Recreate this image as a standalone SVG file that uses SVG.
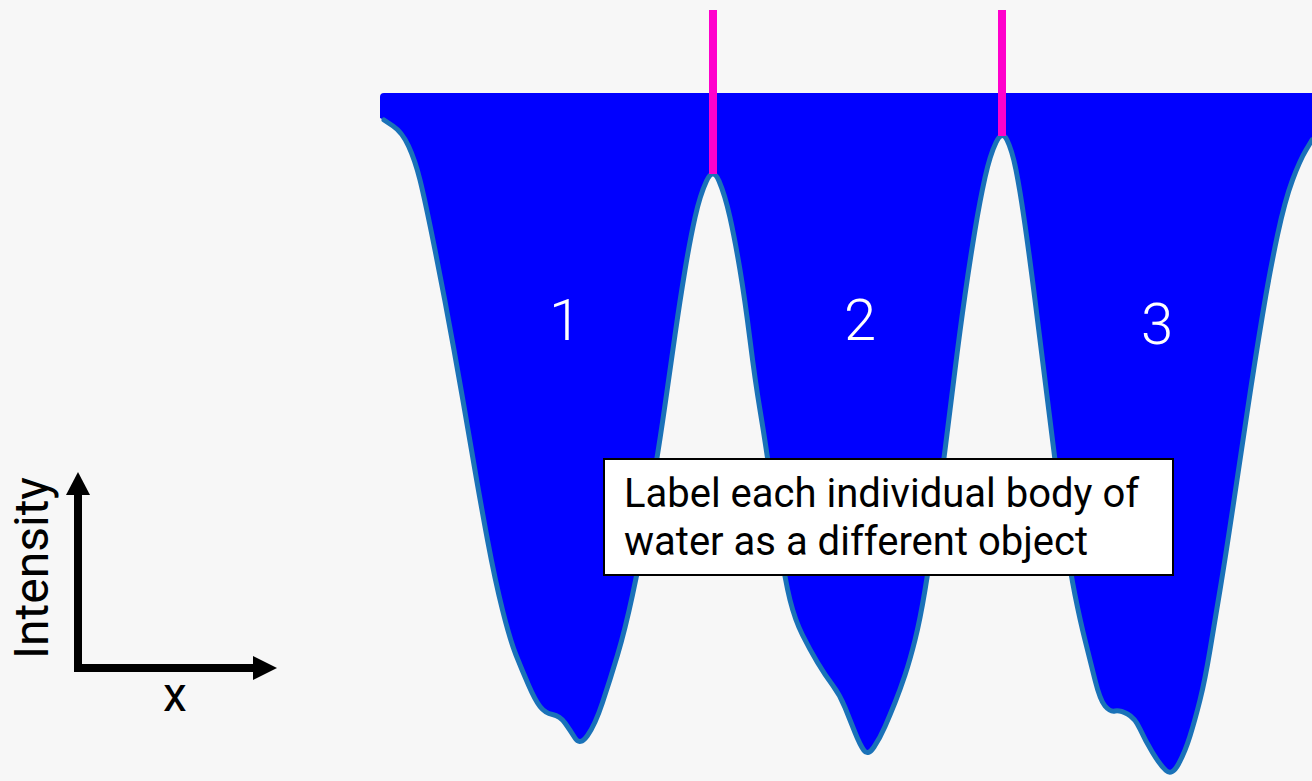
<svg xmlns="http://www.w3.org/2000/svg" width="1312" height="781" viewBox="0 0 1312 781">
<defs>
<style>
.water{fill:#0000ff;stroke:none}
.edge{fill:none;stroke:#1a72b8;stroke-width:5;stroke-linejoin:round;stroke-linecap:round}
.cut{stroke:#ff00cc;stroke-width:8}
.num{font-family:Roboto,"Liberation Sans",sans-serif;font-weight:300;font-size:58px;fill:#ffffff;text-anchor:middle}
.lbl{font-family:Roboto,"Liberation Sans",sans-serif;font-size:40px;fill:#000}
.ax{font-family:Roboto,"Liberation Sans",sans-serif;font-size:48px;fill:#000}
.axis{stroke:#000;stroke-width:8;fill:none}
</style>
</defs>
<rect width="1312" height="781" fill="#f7f7f7"/>
<g id="water">
<path class="water" d="M384,120 L393,126 Q402,132 408.5,146 Q415,160 420,180 Q425,200 435,250 Q445,300 454,350 Q463,400 471.5,450 Q480,500 487.5,540 Q495,580 502.5,610 Q510,640 516,655 Q522,670 528.5,685 Q535,700 540,706.5 Q545,713 552.5,714.5 Q560,716 565,723 Q570,730 575,738 Q580,746 587.5,735.5 Q595,725 602.5,702.5 Q610,680 617.5,655 Q625,630 632.5,595 Q640,560 645,530 Q650,500 655,470 Q660,440 665,405 Q670,370 675,335 Q680,300 685,270 Q690,240 695,217.5 Q700,195 706.5,181 Q713,167 719,181 Q725,195 730,217.5 Q735,240 740,270 Q745,300 750,340 Q755,380 760,410 Q765,440 770,475 Q775,510 780,545 Q785,580 790,600 Q795,620 802.5,635 Q810,650 817.5,662.5 Q825,675 832.5,685 Q840,695 845,707.5 Q850,720 855,732.5 Q860,745 864,750.5 Q868,756 874,747 Q880,738 885,726.5 Q890,715 895,702.5 Q900,690 905,675 Q910,660 915,640 Q920,620 925,590 Q930,560 935,525 Q940,490 945,450 Q950,410 955,370 Q960,330 965,295 Q970,260 975,230 Q980,200 985,177.5 Q990,155 996,142.5 Q1002,130 1007,140 Q1012,150 1016,170 Q1020,190 1025,225 Q1030,260 1035,300 Q1040,340 1045,380 Q1050,420 1055,460 Q1060,500 1065,535 Q1070,570 1075,595 Q1080,620 1085,640 Q1090,660 1095,680 Q1100,700 1105,706 Q1110,712 1115,711 Q1120,710 1127.5,714 Q1135,718 1140,729 Q1145,740 1152.5,752.5 Q1160,765 1166,770.5 Q1172,776 1178.5,764 Q1185,752 1190,736 Q1195,720 1200,700 Q1205,680 1210,650 Q1215,620 1220,590 Q1225,560 1232.5,510 Q1240,460 1247.5,410 Q1255,360 1262.5,315 Q1270,270 1277.5,235 Q1285,200 1292.5,180 Q1300,160 1306,150 L1312,140 L1312,93 L384,93 Q380,93 380,97 L380,118 Z"/>
<path class="edge" d="M384,120 L393,126 Q402,132 408.5,146 Q415,160 420,180 Q425,200 435,250 Q445,300 454,350 Q463,400 471.5,450 Q480,500 487.5,540 Q495,580 502.5,610 Q510,640 516,655 Q522,670 528.5,685 Q535,700 540,706.5 Q545,713 552.5,714.5 Q560,716 565,723 Q570,730 575,738 Q580,746 587.5,735.5 Q595,725 602.5,702.5 Q610,680 617.5,655 Q625,630 632.5,595 Q640,560 645,530 Q650,500 655,470 Q660,440 665,405 Q670,370 675,335 Q680,300 685,270 Q690,240 695,217.5 Q700,195 706.5,181 Q713,167 719,181 Q725,195 730,217.5 Q735,240 740,270 Q745,300 750,340 Q755,380 760,410 Q765,440 770,475 Q775,510 780,545 Q785,580 790,600 Q795,620 802.5,635 Q810,650 817.5,662.5 Q825,675 832.5,685 Q840,695 845,707.5 Q850,720 855,732.5 Q860,745 864,750.5 Q868,756 874,747 Q880,738 885,726.5 Q890,715 895,702.5 Q900,690 905,675 Q910,660 915,640 Q920,620 925,590 Q930,560 935,525 Q940,490 945,450 Q950,410 955,370 Q960,330 965,295 Q970,260 975,230 Q980,200 985,177.5 Q990,155 996,142.5 Q1002,130 1007,140 Q1012,150 1016,170 Q1020,190 1025,225 Q1030,260 1035,300 Q1040,340 1045,380 Q1050,420 1055,460 Q1060,500 1065,535 Q1070,570 1075,595 Q1080,620 1085,640 Q1090,660 1095,680 Q1100,700 1105,706 Q1110,712 1115,711 Q1120,710 1127.5,714 Q1135,718 1140,729 Q1145,740 1152.5,752.5 Q1160,765 1166,770.5 Q1172,776 1178.5,764 Q1185,752 1190,736 Q1195,720 1200,700 Q1205,680 1210,650 Q1215,620 1220,590 Q1225,560 1232.5,510 Q1240,460 1247.5,410 Q1255,360 1262.5,315 Q1270,270 1277.5,235 Q1285,200 1292.5,180 Q1300,160 1306,150 L1312,140"/>
</g>
<g id="cuts">
<line class="cut" x1="713" y1="10" x2="713" y2="174"/>
<line class="cut" x1="1002" y1="10" x2="1002" y2="136"/>
</g>
<g id="labels">
<text class="num" x="565" y="340">1</text>
<text class="num" x="860" y="340">2</text>
<text class="num" x="1157" y="344">3</text>
</g>
<g id="note">
<rect x="604" y="459" width="569" height="116" fill="#fff" stroke="#000" stroke-width="2"/>
<text class="lbl" x="624" y="507">Label each individual body of</text>
<text class="lbl" x="624" y="555">water as a different object</text>
</g>
<g id="axes">
<line class="axis" x1="78" y1="672" x2="78" y2="495"/>
<polygon points="66,495 90,495 78,472" fill="#000"/>
<line class="axis" x1="74" y1="668" x2="254" y2="668"/>
<polygon points="253,656 253,680 277,668" fill="#000"/>
<text class="ax" transform="translate(48,659) rotate(-90)">Intensity</text>
<text class="ax" x="175" y="711" text-anchor="middle">x</text>
</g>
</svg>
